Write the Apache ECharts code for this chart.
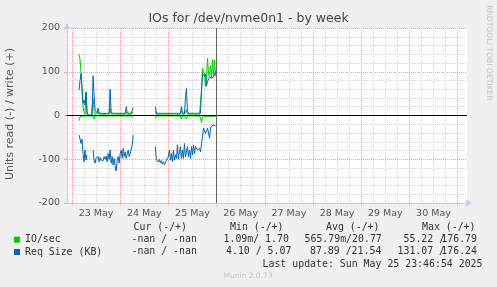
<!DOCTYPE html>
<html>
<head>
<meta charset="utf-8">
<script src="https://cdn.jsdelivr.net/npm/echarts@6/dist/echarts.min.js"></script>
<style>
  html, body { margin: 0; padding: 0; background: #f0f0f0; }
  #chart { width: 497px; height: 287px; }
</style>
</head>
<body>
<div id="chart"></div>
<script>
// x values are hours since 23 May 00:00
const dayLabels = ['23 May', '24 May', '25 May', '26 May', '27 May', '28 May', '29 May', '30 May']
const labelHours = [12, 36, 60, 84, 108, 132, 156, 180]
const majorHours = [0, 24, 48, 72, 96, 120, 144, 168, 192]
const minorHours = [6, 12, 18, 30, 36, 42, 54, 60, 66, 78, 84, 90, 102, 108, 114,
  126, 132, 138, 150, 156, 162, 174, 180, 186]
const xMin = -2.49
const xMax = 196.7
const nowHour = 71.78

// 30 minute samples, first one at 23 May 03:30
const startHour = 3.5
const stepHours = 0.5

const ioWrite = [
  140, 128, 97, 60, 20, 8, 3, 52, 2, 0,
  0, 0, 0, 0, 38, 10, 3, 3, 3, 8,
  3, 3, 3, 4, 3, 3, 3, 3, 4, 3,
  3, 16, 3, 3, 3, 3, 4, 3, 3, 3,
  3, 3, 3, 4, 3, 3, 3, 8, 3, 3,
  3, 3, 3, 3, 8, null, null, null, null, null,
  null, null, null, null, null, null, null, null, null, null,
  null, null, null, null, null, null, 10, 3, 3, 3,
  3, 3, 4, 3, 3, 3, 3, 3, 3, 4,
  3, 3, 3, 3, 3, 4, 3, 3, 3, 3,
  3, 3, 12, 3, 3, 3, 8, 14, 3, 3,
  3, 3, 3, 3, 3, 3, 3, 3, 3, 3,
  3, 3, 55, 108, 100, 95, 66, 88, 131, 95,
  90, 115, 85, 128, 92, 127, 90,
]
const ioRead = [
  -12, -3, -1, -1, -1, -1, -1, -1, -1, -1,
  -1, -1, -1, -1, -2, -8, -1, -1, -1, -1,
  -1, -1, -1, -1, -1, -1, -1, -1, -1, -1,
  -1, -1, -1, -1, -1, -1, -1, -1, -1, -1,
  -1, -1, -1, -1, -1, -1, -1, -1, -1, -1,
  -1, -1, -1, -1, -4, null, null, null, null, null,
  null, null, null, null, null, null, null, null, null, null,
  null, null, null, null, null, null, -7, -1, -1, -1,
  -1, -1, -1, -1, -1, -1, -1, -1, -1, -1,
  -1, -1, -1, -1, -1, -1, -1, -1, -1, -1,
  -1, -1, -8, -1, -1, -1, -2, -8, -1, -1,
  -1, -1, -1, -1, -1, -1, -1, -1, -1, -1,
  -1, -6, -16, -3, -2, -2, -2, -2, -2, -2,
  -2, -2, -2, -2, -2, -2, -2,
]
const sizeWrite = [
  58, 80, 96, 62, 28, 35, 24, 54, 8, 1,
  1, 1, 1, 1, 91, 47, 12, 8, 6, 17,
  6, 5, 5, 5, 5, 5, 5, 5, 5, 5,
  5, 60, 6, 5, 5, 5, 5, 5, 5, 5,
  5, 5, 5, 5, 5, 5, 5, 20, 6, 5,
  5, 5, 5, 6, 18, null, null, null, null, null,
  null, null, null, null, null, null, null, null, null, null,
  null, null, null, null, null, null, 20, 5, 5, 5,
  5, 5, 5, 5, 5, 5, 5, 5, 5, 5,
  5, 5, 5, 5, 5, 5, 5, 5, 5, 5,
  5, 5, 20, 5, 5, 5, 40, 62, 10, 5,
  5, 5, 5, 5, 5, 5, 5, 5, 5, 5,
  5, 5, 60, 96, 92, 90, 95, 68, 78, 82,
  88, 84, 86, 90, 88, 96, 101,
]
const sizeRead = [
  -45, -54, -64, -54, -87, -106, -79, -102, -90, null,
  null, null, null, null, -79, -102, -109, -98, -100, -93,
  -106, -96, -102, -98, -103, -94, -100, -93, -106, -87,
  -100, -79, -109, -94, -113, -98, -117, -127, -102, -94,
  -109, -87, -79, -98, -75, -94, -83, -98, -87, -79,
  -94, -87, -90, -67, -45, null, null, null, null, null,
  null, null, null, null, null, null, null, null, null, null,
  null, null, null, null, null, null, -71, -102, -98, -106,
  -100, -108, -103, -111, -106, -113, -108, -102, -106, -94,
  -79, -102, -87, -106, -79, -102, -90, -98, -67, -100,
  -83, -71, -98, -79, -98, -64, -94, -90, -71, -94,
  -79, -98, -71, -90, -67, -87, -71, -75, -79, -83,
  -75, -83, -79, -48, -29, -33, -41, -37, -29, -26,
  -52, -29, -24, -27, -22, -26, -24,
]

const columnHeads = ['Cur (-/+)', 'Min (-/+)', 'Avg (-/+)', 'Max (-/+)']
const ioStats = ['-nan / -nan', '1.09m/ 1.70', '565.79m/20.77', '55.22 /', '176.79']
const sizeStats = ['-nan / -nan', '4.10 / 5.07', '87.89 /21.54', '131.07 /', '176.24']
const lastUpdate = 'Last update: Sun May 25 23:46:54 2025'

const green = '#00cc00'
const blue = '#0066b3'
const mono = 'DejaVu Sans Mono'
const sans = 'DejaVu Sans'

const toPairs = (vals) => vals.map((v, i) => [startHour + i * stepHours, v])

function lineSeries(name, color, vals) {
  return {
    name: name,
    type: 'line',
    data: toPairs(vals),
    showSymbol: false,
    connectNulls: false,
    lineStyle: { color: color, width: 1 },
    itemStyle: { color: color },
    emphasis: { disabled: true },
  }
}

function txt(x, y, text, opts) {
  return {
    type: 'text',
    x: x,
    y: y,
    silent: true,
    style: Object.assign({
      text: text,
      fontFamily: mono,
      fontSize: 9.9,
      fill: '#333',
      textAlign: 'left',
      textVerticalAlign: 'middle',
    }, opts || {}),
  }
}

const statRows = [
  { y: 239.5, vals: ioStats, xs: [131.5, 223.5, 304.5, 403.5] },
  { y: 251.8, vals: sizeStats, xs: [131.5, 226, 310, 397.5] },
]

const graphics = [
  txt(248.5, 18.5, 'IOs for /dev/nvme0n1 - by week', { fontFamily: sans, fontSize: 12.5, fill: '#444', textAlign: 'center' }),
  {
    type: 'text', x: 10.5, y: 114, rotation: Math.PI / 2, silent: true,
    style: { text: 'Units read (-) / write (+)', fontFamily: sans, fontSize: 11, fill: '#555', textAlign: 'center', textVerticalAlign: 'middle' },
  },
  {
    type: 'text', x: 488.5, y: 53, rotation: -Math.PI / 2, silent: true,
    style: { text: 'RRDTOOL/ TOBI OETIKER', fontFamily: sans, fontSize: 7.6, fill: '#c4c4c4', textAlign: 'center', textVerticalAlign: 'middle' },
  },
  txt(248, 276.5, 'Munin 2.0.73', { fontFamily: sans, fontSize: 7.5, fill: '#c4c4c4', textAlign: 'center' }),
  txt(482.5, 264, lastUpdate, { textAlign: 'right' }),
]
const headXs = [133.5, 230, 326, 422]
columnHeads.forEach((h, i) => graphics.push(txt(headXs[i], 227.7, h)))
statRows.forEach((row) => {
  row.vals.forEach((v, i) => {
    if (i < 4) graphics.push(txt(row.xs[i], row.y, v))
    else graphics.push(txt(477, row.y, v, { textAlign: 'right' }))
  })
})

const chart = echarts.init(document.getElementById('chart'), null, { renderer: 'canvas' })

const axisBlue = '#c6c6f4'
const majorRed = '#eaa0a0'
const minorGrey = '#d2d2d2'

const sRead = lineSeries('Req Size (KB)', blue, sizeRead)
sRead.markLine = {
  silent: true,
  symbol: ['none', 'none'],
  label: { show: false },
  animation: false,
  data: [
    { yAxis: 0, lineStyle: { color: '#000', type: 'solid', width: 1 } },
    { xAxis: nowHour, lineStyle: { color: '#666', type: 'solid', width: 1 } },
  ],
}

chart.setOption({
  backgroundColor: '#f0f0f0',
  animation: false,
  grid: {
    left: 67, top: 28, width: 400, height: 175,
    backgroundColor: '#fff', show: true, borderWidth: 0,
    outerBoundsMode: 'none',
  },
  legend: {
    data: ['IO/sec', 'Req Size (KB)'],
    orient: 'vertical',
    left: 14, top: 233.5,
    padding: 0,
    itemGap: 0,
    itemWidth: 6, itemHeight: 6,
    icon: 'rect',
    selectedMode: false,
    textStyle: { fontFamily: mono, fontSize: 9.9, color: '#333', lineHeight: 12.3 },
  },
  xAxis: [
    {
      type: 'value', min: xMin, max: xMax,
      axisLine: {
        show: true, onZero: false,
        lineStyle: { color: axisBlue, width: 1 },
        symbol: ['none', 'arrow'], symbolSize: [6, 7], symbolOffset: [0, 5],
      },
      axisTick: { show: true, customValues: majorHours, length: 3, lineStyle: { color: majorRed, type: [1, 1] } },
      axisLabel: {
        customValues: labelHours,
        formatter: (v) => {
          const k = labelHours.findIndex((h) => Math.abs(h - v) < 0.01)
          return k >= 0 ? dayLabels[k] : ''
        },
        color: '#555', fontFamily: sans, fontSize: 9.5, margin: 6,
      },
      splitLine: { show: true, lineStyle: { color: majorRed, type: [1, 1], width: 1 } },
      z: 3,
    },
    {
      type: 'value', min: xMin, max: xMax,
      axisLine: { show: false },
      axisTick: { show: false, customValues: minorHours },
      axisLabel: { show: false, customValues: minorHours },
      splitLine: { show: true, lineStyle: { color: minorGrey, type: [1, 1], width: 1 } },
      z: 1,
    },
  ],
  yAxis: {
    type: 'value', min: -200, max: 200, interval: 100,
    axisLine: {
      show: true, onZero: false,
      lineStyle: { color: axisBlue, width: 1 },
      symbol: ['none', 'arrow'], symbolSize: [6, 7], symbolOffset: [0, 5],
    },
    axisTick: { show: true, length: 3, lineStyle: { color: majorRed } },
    axisLabel: { color: '#555', fontFamily: sans, fontSize: 9.5, margin: 7 },
    splitLine: { show: true, lineStyle: { color: majorRed, type: [1, 1], width: 1 } },
    minorTick: { show: false, splitNumber: 5 },
    minorSplitLine: { show: true, lineStyle: { color: minorGrey, type: [1, 1], width: 1 } },
  },
  series: [
    lineSeries('IO/sec', green, ioRead),
    lineSeries('IO/sec', green, ioWrite),
    lineSeries('Req Size (KB)', blue, sizeWrite),
    sRead,
  ],
  graphic: graphics,
})
</script>
</body>
</html>
